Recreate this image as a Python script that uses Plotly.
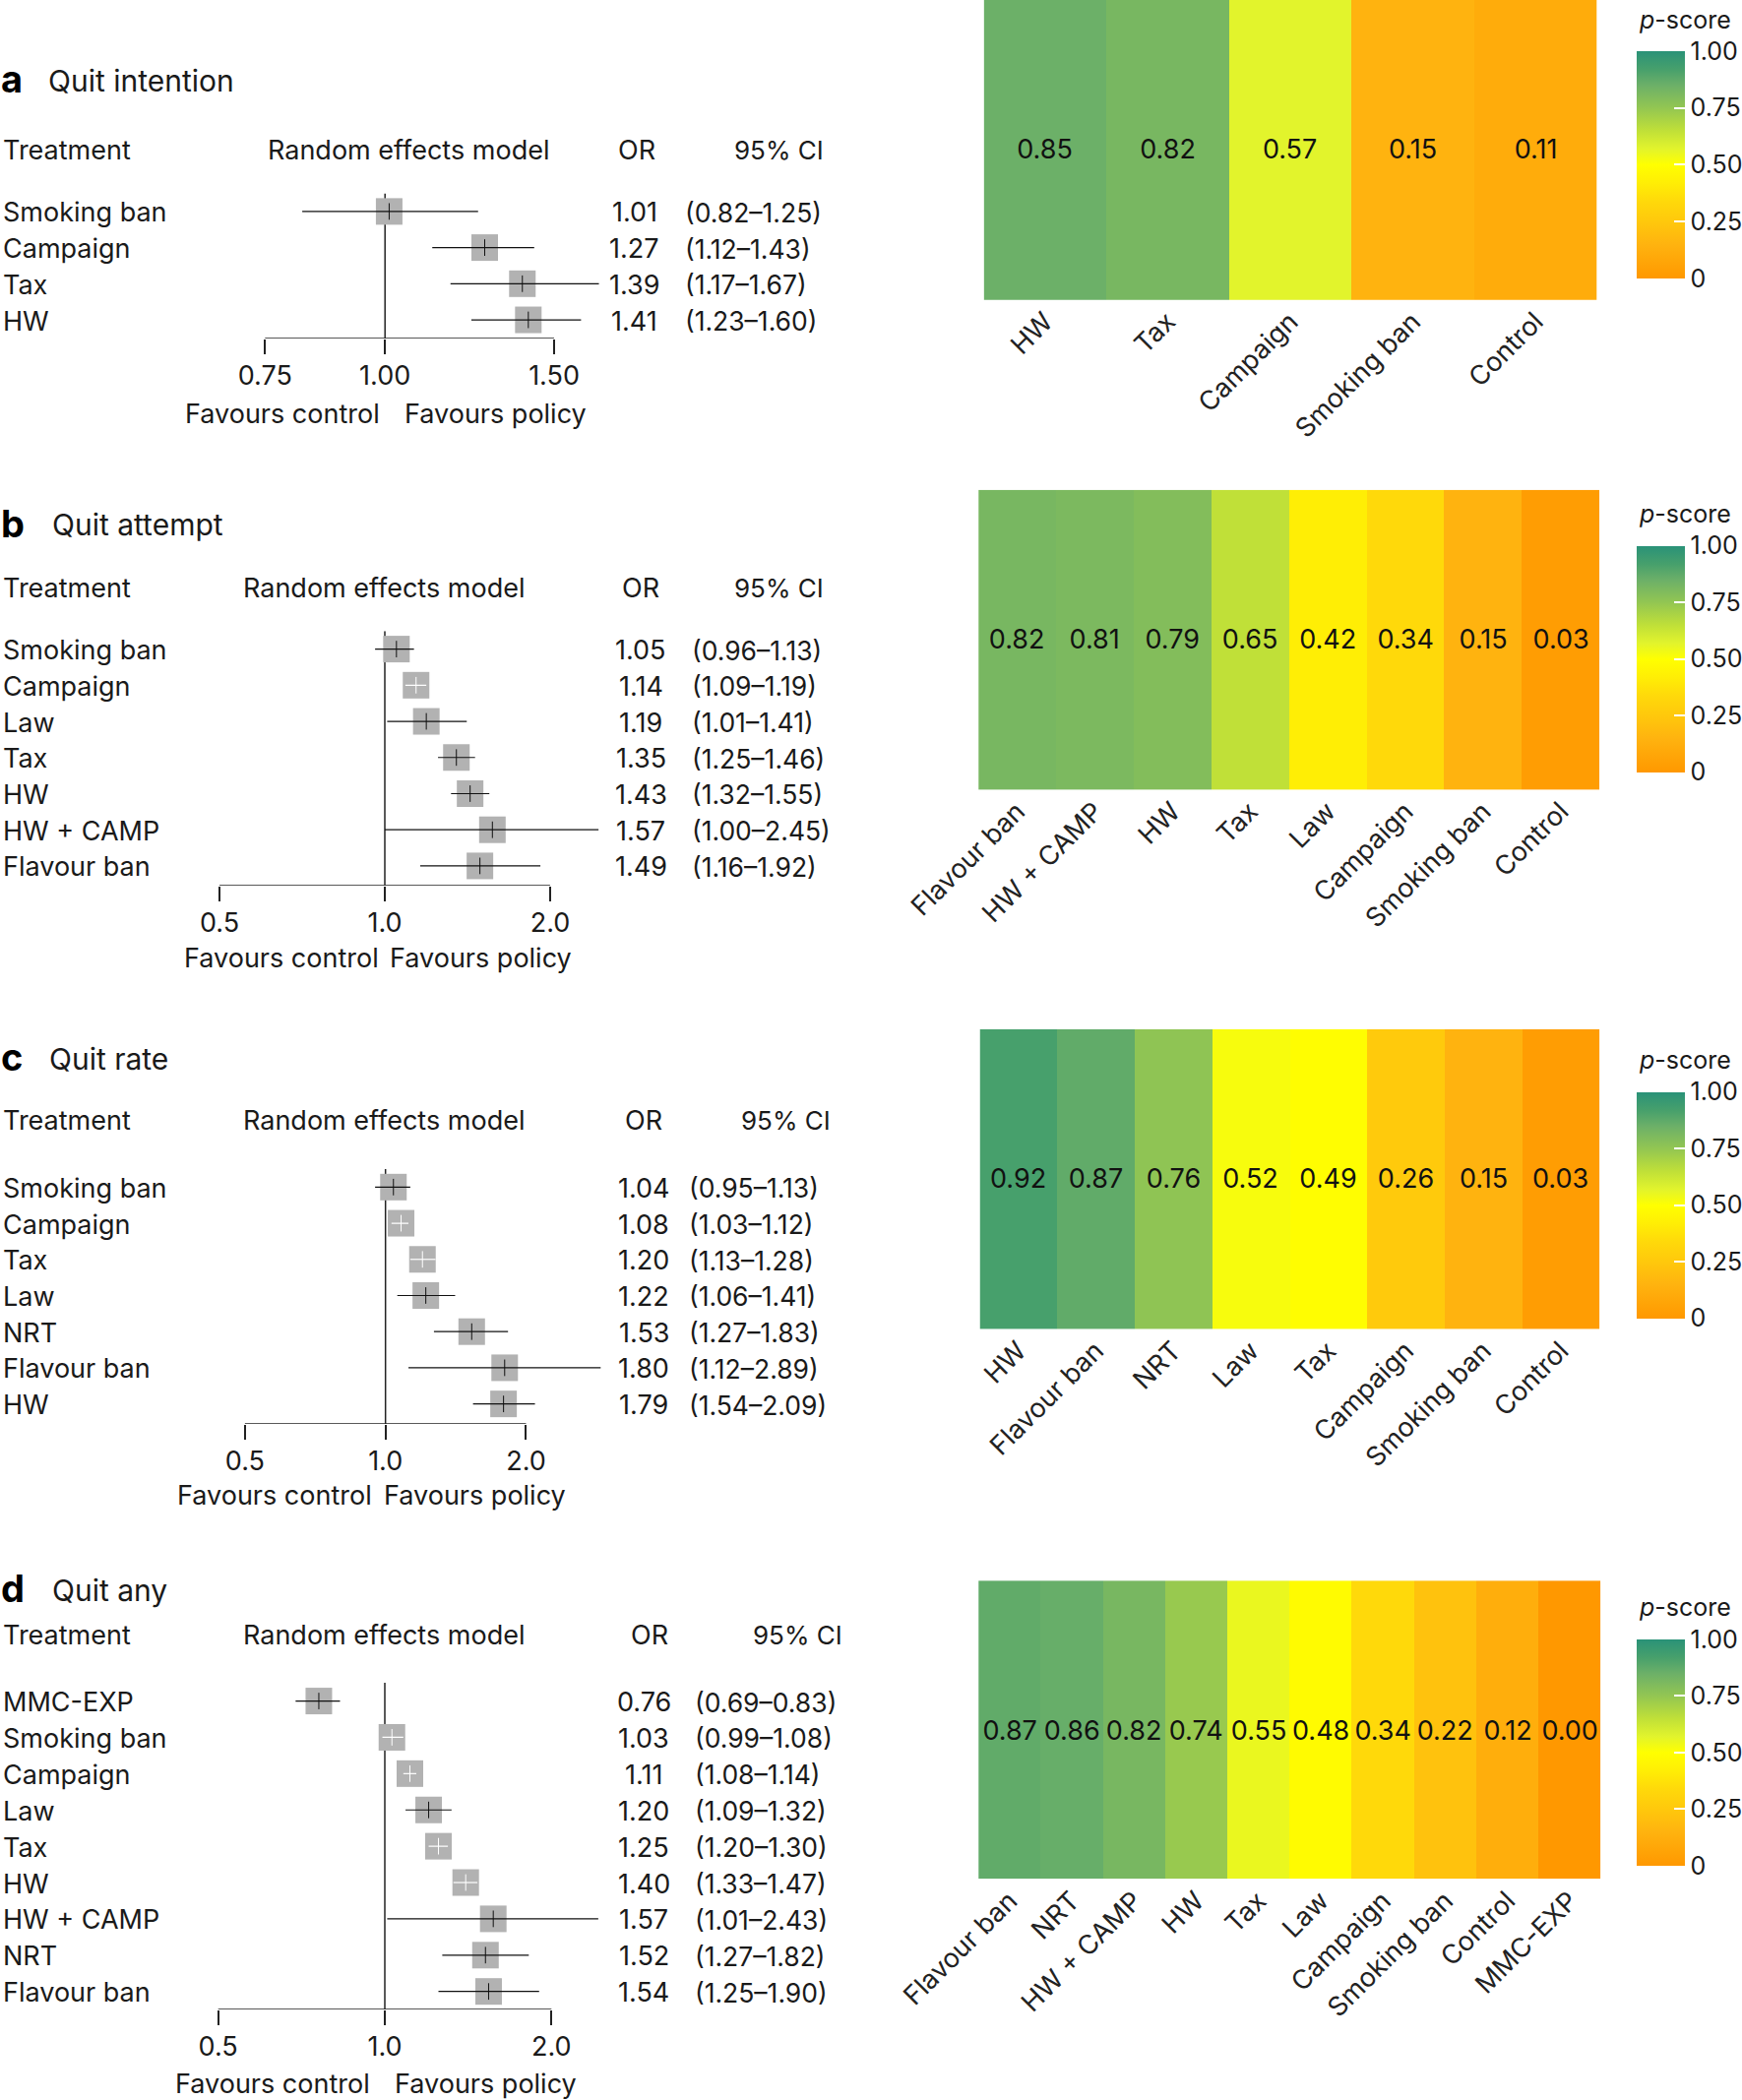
import math
import plotly.graph_objects as go

W, H = 1770, 2134
K = 1.36
FONT = "Inter"
FS = 27
INK = "#1a1a1a"

# ---- data ----
a_treat = ["Smoking ban", "Campaign", "Tax", "HW"]
a_or = [1.01, 1.27, 1.39, 1.41]
a_lo = [0.82, 1.12, 1.17, 1.23]
a_hi = [1.25, 1.43, 1.67, 1.60]
a_cat = ["HW", "Tax", "Campaign", "Smoking ban", "Control"]
a_score = [0.85, 0.82, 0.57, 0.15, 0.11]

b_treat = ["Smoking ban", "Campaign", "Law", "Tax", "HW", "HW + CAMP", "Flavour ban"]
b_or = [1.05, 1.14, 1.19, 1.35, 1.43, 1.57, 1.49]
b_lo = [0.96, 1.09, 1.01, 1.25, 1.32, 1.00, 1.16]
b_hi = [1.13, 1.19, 1.41, 1.46, 1.55, 2.45, 1.92]
b_cat = ["Flavour ban", "HW + CAMP", "HW", "Tax", "Law", "Campaign", "Smoking ban", "Control"]
b_score = [0.82, 0.81, 0.79, 0.65, 0.42, 0.34, 0.15, 0.03]

c_treat = ["Smoking ban", "Campaign", "Tax", "Law", "NRT", "Flavour ban", "HW"]
c_or = [1.04, 1.08, 1.20, 1.22, 1.53, 1.80, 1.79]
c_lo = [0.95, 1.03, 1.13, 1.06, 1.27, 1.12, 1.54]
c_hi = [1.13, 1.12, 1.28, 1.41, 1.83, 2.89, 2.09]
c_cat = ["HW", "Flavour ban", "NRT", "Law", "Tax", "Campaign", "Smoking ban", "Control"]
c_score = [0.92, 0.87, 0.76, 0.52, 0.49, 0.26, 0.15, 0.03]

d_treat = ["MMC-EXP", "Smoking ban", "Campaign", "Law", "Tax", "HW", "HW + CAMP", "NRT", "Flavour ban"]
d_or = [0.76, 1.03, 1.11, 1.20, 1.25, 1.40, 1.57, 1.52, 1.54]
d_lo = [0.69, 0.99, 1.08, 1.09, 1.20, 1.33, 1.01, 1.27, 1.25]
d_hi = [0.83, 1.08, 1.14, 1.32, 1.30, 1.47, 2.43, 1.82, 1.90]
d_cat = ["Flavour ban", "NRT", "HW + CAMP", "HW", "Tax", "Law", "Campaign", "Smoking ban", "Control", "MMC-EXP"]
d_score = [0.87, 0.86, 0.82, 0.74, 0.55, 0.48, 0.34, 0.22, 0.12, 0.00]

a_ticks, a_ticktext = [0.75, 1.0, 1.5], ["0.75", "1.00", "1.50"]
bcd_ticks, bcd_ticktext = [0.5, 1.0, 2.0], ["0.5", "1.0", "2.0"]
cbar_vals, cbar_text = [0, 0.25, 0.5, 0.75, 1], ["0", "0.25", "0.50", "0.75", "1.00"]

COLORSCALE = [[0, "#FF9800"], [0.15, "#FFB30F"], [0.25, "#FFC80C"], [0.34, "#FFD90A"], [0.42, "#FFEE05"],
              [0.5, "#FFFF00"], [0.57, "#E2F42C"], [0.65, "#C0E038"], [0.75, "#93C652"], [0.85, "#6CB068"],
              [0.92, "#47A06C"], [1, "#2A9278"]]

# ---- layout of each panel, in reference picture units ----
panels = [
    dict(tag="a", title="Quit intention", treat=a_treat, or_=a_or, lo=a_lo, hi=a_hi, cat=a_cat, score=a_score,
         ticks=a_ticks, ticktext=a_ticktext, tl=198, tr=414, y0=158, y1=239, base=253, title_y=60, title_x=36, head_y=112,
         fav_y=309, rem_x=305, orh_x=476, cih_x=582, or_x=474, ci_x=512, fc=211, fp=370,
         hx=(735, 1193), hy=(0, 224), cb=(38, 208), ctext_y=15),
    dict(tag="b", title="Quit attempt", treat=b_treat, or_=b_or, lo=b_lo, hi=b_hi, cat=b_cat, score=b_score,
         ticks=bcd_ticks, ticktext=bcd_ticktext, tl=164, tr=411, y0=485, y1=647, base=661.5, title_y=392, title_x=39, head_y=439,
         fav_y=716, rem_x=287, orh_x=479, cih_x=582, or_x=479, ci_x=517, fc=210, fp=359,
         hx=(731, 1195), hy=(366, 590), cb=(408, 577), ctext_y=384),
    dict(tag="c", title="Quit rate", treat=c_treat, or_=c_or, lo=c_lo, hi=c_hi, cat=c_cat, score=c_score,
         ticks=bcd_ticks, ticktext=bcd_ticktext, tl=183, tr=393, y0=887, y1=1049, base=1064, title_y=791, title_x=37, head_y=837,
         fav_y=1117, rem_x=287, orh_x=481, cih_x=587, or_x=481, ci_x=515, fc=205, fp=355,
         hx=(732, 1195), hy=(769, 993), cb=(816, 985), ctext_y=792),
    dict(tag="d", title="Quit any", treat=d_treat, or_=d_or, lo=d_lo, hi=d_hi, cat=d_cat, score=d_score,
         ticks=bcd_ticks, ticktext=bcd_ticktext, tl=163, tr=412, y0=1271, y1=1488, base=1501.5, title_y=1188, title_x=39, head_y=1222,
         fav_y=1557, rem_x=287, orh_x=485, cih_x=596, or_x=481, ci_x=519, fc=204, fp=363,
         hx=(731, 1196), hy=(1181, 1404), cb=(1225, 1394), ctext_y=1201),
]


def px(v):
    return v * K / W


def py(v):
    return 1 - v * K / H


fig = go.Figure()
annots = []
layout = {}


def label(text, x, y, anchor="left", size=FS, yref="paper", bold=False, color=INK, yshift=0):
    if anchor == "left":
        x -= 1.5
    annots.append(dict(text=f"<b>{text}</b>" if bold else text, x=px(x), xref="paper", y=y, yref=yref,
                       xanchor=anchor, yanchor="middle", showarrow=False, yshift=yshift,
                       font=dict(family=FONT, size=size, color=color)))


for i, p in enumerate(panels):
    f = 2 * i + 1
    h = 2 * i + 2
    n = len(p["treat"])
    step = (p["y1"] - p["y0"]) / (n - 1)
    xn, yn = f"x{f}", f"y{f}"
    # forest axes (log x)
    tlo, thi = min(p["ticks"]), max(p["ticks"])
    dec = (p["tr"] - p["tl"]) / (math.log10(thi) - math.log10(tlo))
    x1px = p["tl"] + (0 - math.log10(tlo)) * dec
    left, right = 100, 449.5
    rng = [(left - x1px) / dec, (right - x1px) / dec]
    bottom = (p["base"] - p["y0"]) / step
    layout[f"xaxis{f}"] = dict(type="log", range=rng, domain=[px(left), px(right)], anchor=yn,
                               tickmode="array", tickvals=p["ticks"], ticktext=p["ticktext"],
                               ticks="outside", ticklen=15, tickwidth=1.5, tickcolor="#222",
                               ticklabelstandoff=-1,
                               showgrid=False, zeroline=False, showline=False,
                               tickfont=dict(family=FONT, size=FS, color=INK))
    layout[f"yaxis{f}"] = dict(range=[bottom, -0.5], anchor=xn,
                               domain=[py(p["base"]), py(p["y0"] - step / 2)],
                               visible=False, showgrid=False, zeroline=False)
    rows = list(range(n))
    # reference line and baseline
    fig.add_trace(go.Scatter(x=[1, 1], y=[-0.5, bottom], mode="lines", xaxis=xn, yaxis=yn, showlegend=False,
                             line=dict(color="#222", width=1.5), cliponaxis=False))
    fig.add_trace(go.Scatter(x=[tlo, thi], y=[bottom, bottom], mode="lines", xaxis=xn, yaxis=yn, showlegend=False,
                             line=dict(color="#222", width=1.5), cliponaxis=False))
    # boxes
    fig.add_trace(go.Scatter(x=p["or_"], y=rows, mode="markers", xaxis=xn, yaxis=yn, showlegend=False,
                             marker=dict(symbol="square", size=27, color="#B2B2B2"), cliponaxis=False))
    # CI lines: white when they fit inside the box
    box = 20.0
    for col, test in (("#111", lambda w: w >= box), ("#FFFFFF", lambda w: w < box)):
        xs, ys, mx, my = [], [], [], []
        for r, o, l, u in zip(rows, p["or_"], p["lo"], p["hi"]):
            width = (math.log10(u) - math.log10(l)) * dec
            if test(width):
                xs += [l, u, None]
                ys += [r, r, None]
                mx.append(o)
                my.append(r)
        if xs:
            fig.add_trace(go.Scatter(x=xs, y=ys, mode="lines", xaxis=xn, yaxis=yn, showlegend=False,
                                     line=dict(color=col, width=1.2)))
            fig.add_trace(go.Scatter(x=mx, y=my, mode="markers", xaxis=xn, yaxis=yn, showlegend=False,
                                     marker=dict(symbol="line-ns", size=12, line=dict(color=col, width=1))))
    # texts
    label(p["tag"], 1, py(p["title_y"] - 1), size=38, bold=True, color="#000")
    label(p["title"], p["title_x"], py(p["title_y"]), size=30)
    label("Treatment", 2, py(p["head_y"]))
    label("Random effects model", p["rem_x"], py(p["head_y"]), anchor="center")
    label("OR", p["orh_x"], py(p["head_y"]), anchor="center")
    label("95% CI", p["cih_x"], py(p["head_y"]), anchor="center", size=26)
    for r, t, o, l, u in zip(rows, p["treat"], p["or_"], p["lo"], p["hi"]):
        label(t, 2, r, yref=yn, yshift=-1)
        label(f"{o:.2f}", p["or_x"], r, anchor="center", yref=yn, yshift=-1)
        label(f"({l:.2f}–{u:.2f})", p["ci_x"], r, yref=yn, yshift=-1, size=26.5)
    label("Favours control", p["fc"], py(p["fav_y"]), anchor="center")
    label("Favours policy", p["fp"], py(p["fav_y"]), anchor="center")
    label("<i>p</i>-score", 1224, py(p["ctext_y"]), size=25)

    # heatmap
    xh, yh = f"x{h}", f"y{h}"
    caxis = "coloraxis" if i == 0 else f"coloraxis{i + 1}"
    fig.add_trace(go.Heatmap(z=[p["score"]], x=p["cat"], y=["p"], xaxis=xh, yaxis=yh, coloraxis=caxis,
                             texttemplate="%{z:.2f}", textfont=dict(family=FONT, size=FS, color="#111"),
                             xgap=0, ygap=0, showlegend=False))
    layout[f"xaxis{h}"] = dict(domain=[px(p["hx"][0]), px(p["hx"][1])], anchor=yh, type="category",
                               categoryorder="array", categoryarray=p["cat"], tickangle=-45,
                               showgrid=False, zeroline=False, showline=False, ticks="",
                               tickfont=dict(family=FONT, size=FS, color="#222"))
    layout[f"yaxis{h}"] = dict(domain=[py(p["hy"][1]), py(p["hy"][0])], anchor=xh, visible=False)
    cb_len = (p["cb"][1] - p["cb"][0]) * K
    layout[caxis] = dict(
        cmin=0, cmax=1, colorscale=COLORSCALE,
        colorbar=dict(x=px(1223), xanchor="left", y=py(p["cb"][1]), yanchor="bottom",
                      lenmode="pixels", len=cb_len, thicknessmode="pixels", thickness=36 * K,
                      xpad=0, ypad=0, outlinewidth=0, borderwidth=0,
                      tickmode="array", tickvals=cbar_vals, ticktext=cbar_text, tickprefix="\u2009",
                      ticks="inside", ticklen=11, tickwidth=1.5, tickcolor="#FFFFFF",
                      tickfont=dict(family=FONT, size=25, color=INK)))

fig.update_layout(width=W, height=H, margin=dict(l=0, r=0, t=0, b=0, autoexpand=False), paper_bgcolor="white",
                  plot_bgcolor="white", showlegend=False, annotations=annots, **layout)
fig.write_html("out.html", config={"displayModeBar": False}, post_script="document.body.style.margin='0';")
